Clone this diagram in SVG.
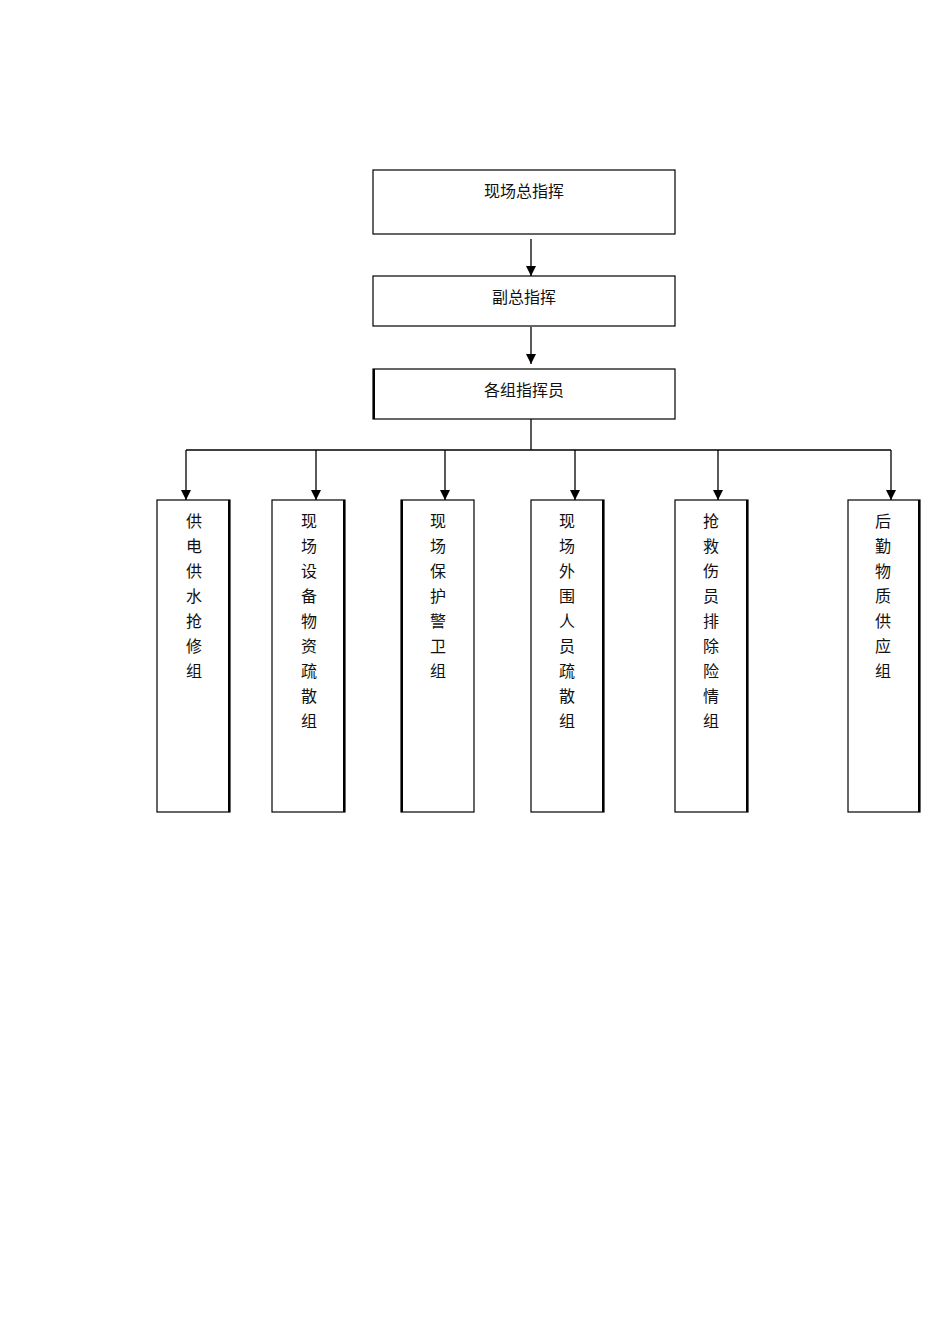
<svg xmlns="http://www.w3.org/2000/svg" width="950" height="1344" viewBox="0 0 950 1344">
<style>
rect{fill:#fff;stroke:#000;stroke-width:1.2}
.s{stroke:#000;stroke-width:2;fill:none}
text{font-family:"Noto Sans CJK SC",sans-serif;font-size:16px;fill:#111;text-anchor:middle;dominant-baseline:central}
.c line{stroke:#000;stroke-width:1.3}
</style>
<defs><marker id="a" viewBox="0 0 10 10" refX="10" refY="5" markerWidth="10" markerHeight="10" markerUnits="userSpaceOnUse" orient="auto"><path d="M0,0L10,5L0,10z" fill="#000"/></marker></defs>
<rect width="950" height="1344" style="fill:#fff;stroke:none"/>
<g id="n1"><rect x="373" y="170" width="302" height="64"/><text x="524" y="190">现场总指挥</text></g>
<g id="n2"><rect x="373" y="276" width="302" height="50"/><text x="524" y="296">副总指挥</text></g>
<g id="n3"><rect x="373" y="369" width="302" height="50"/><path class="s" d="M374,369V419"/><text x="524" y="389">各组指挥员</text></g>
<g class="c" id="connectors">
<line x1="531" y1="239" x2="531" y2="276" marker-end="url(#a)"/>
<line x1="531" y1="327" x2="531" y2="364" marker-end="url(#a)"/>
<line x1="531" y1="419" x2="531" y2="450"/>
<line x1="186" y1="450" x2="891" y2="450"/>
<line x1="186" y1="450" x2="186" y2="500" marker-end="url(#a)"/>
<line x1="316" y1="450" x2="316" y2="500" marker-end="url(#a)"/>
<line x1="445" y1="450" x2="445" y2="500" marker-end="url(#a)"/>
<line x1="575" y1="450" x2="575" y2="500" marker-end="url(#a)"/>
<line x1="718" y1="450" x2="718" y2="500" marker-end="url(#a)"/>
<line x1="891" y1="450" x2="891" y2="500" marker-end="url(#a)"/>
</g>
<g id="g1"><rect x="157" y="500" width="73" height="312"/><path class="s" d="M229,500V812"/>
<text x="194" y="520">供</text><text x="194" y="545">电</text><text x="194" y="570">供</text><text x="194" y="595">水</text><text x="194" y="620">抢</text><text x="194" y="645">修</text><text x="194" y="670">组</text></g>
<g id="g2"><rect x="272" y="500" width="73" height="312"/><path class="s" d="M344,500V812"/>
<text x="309" y="520">现</text><text x="309" y="545">场</text><text x="309" y="570">设</text><text x="309" y="595">备</text><text x="309" y="620">物</text><text x="309" y="645">资</text><text x="309" y="670">疏</text><text x="309" y="695">散</text><text x="309" y="720">组</text></g>
<g id="g3"><rect x="401" y="500" width="73" height="312"/><path class="s" d="M402,500V812"/>
<text x="438" y="520">现</text><text x="438" y="545">场</text><text x="438" y="570">保</text><text x="438" y="595">护</text><text x="438" y="620">警</text><text x="438" y="645">卫</text><text x="438" y="670">组</text></g>
<g id="g4"><rect x="531" y="500" width="73" height="312"/><path class="s" d="M603,500V812"/>
<text x="567" y="520">现</text><text x="567" y="545">场</text><text x="567" y="570">外</text><text x="567" y="595">围</text><text x="567" y="620">人</text><text x="567" y="645">员</text><text x="567" y="670">疏</text><text x="567" y="695">散</text><text x="567" y="720">组</text></g>
<g id="g5"><rect x="675" y="500" width="73" height="312"/><path class="s" d="M747,500V812"/>
<text x="711" y="520">抢</text><text x="711" y="545">救</text><text x="711" y="570">伤</text><text x="711" y="595">员</text><text x="711" y="620">排</text><text x="711" y="645">除</text><text x="711" y="670">险</text><text x="711" y="695">情</text><text x="711" y="720">组</text></g>
<g id="g6"><rect x="848" y="500" width="72" height="312"/><path class="s" d="M919,500V812"/>
<text x="883" y="520">后</text><text x="883" y="545">勤</text><text x="883" y="570">物</text><text x="883" y="595">质</text><text x="883" y="620">供</text><text x="883" y="645">应</text><text x="883" y="670">组</text></g>
</svg>
